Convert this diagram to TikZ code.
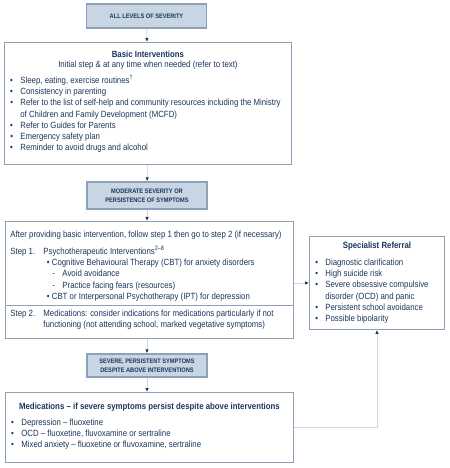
\documentclass[tikz,border=0pt]{standalone}
\usepackage{fontspec}
\setmainfont{Liberation Sans}[FakeStretch=0.87]
\usetikzlibrary{arrows.meta}
\definecolor{navy}{HTML}{1B365D}
\definecolor{frame}{HTML}{8DA2B8}
\definecolor{levelfill}{HTML}{C8D5E2}
\definecolor{wire}{HTML}{CDD7E0}
\setlength{\parindent}{0pt}
\begin{document}
\begin{tikzpicture}
[x=1bp, y=-1bp, text=navy, font=\fontsize{9bp}{11.2bp}\selectfont]
\tikzstyle{level}=[draw=frame, line width=1.2bp, fill=levelfill, align=center, inner sep=0pt,
  minimum width=120bp, font=\bfseries\fontsize{6.5bp}{9.2bp}\selectfont]
\tikzstyle{panel}=[draw=frame, line width=0.9bp, fill=white, anchor=north west, inner sep=0pt]
\tikzstyle{flow}=[draw=wire, line width=0.9bp, -{Latex[length=4bp, width=3.5bp, color=navy]}]
\useasboundingbox (0,0) rectangle (450,468);

% severity levels
\node[level, minimum height=24bp] (sevA) at (146.5,16) {ALL LEVELS OF SEVERITY};
\node[level, minimum height=27bp] (sevB) at (147,195.5) {MODERATE SEVERITY OR\\PERSISTENCE OF SYMPTOMS};
\node[level, minimum height=23bp] (sevC) at (147,365.5) {SEVERE, PERSISTENT SYMPTOMS\\DESPITE ABOVE INTERVENTIONS};

% basic interventions
\node[panel] (basic) at (4,42) {\begin{minipage}[t][122bp][t]{287bp}
{\centering\rule{0pt}{15bp}\textbf{Basic Interventions}\\[-1.2bp]
Initial step \& at any time when needed (refer to text)\par}
\vspace{4.8bp}
\hspace*{5.8bp}\begin{tabular}[t]{@{}l@{\hspace{7.4bp}}l@{}}
\textbullet & Sleep, eating, exercise routines\textsuperscript{\dag}\\
\textbullet & Consistency in parenting\\
\textbullet & Refer to the list of self-help and community resources including the Ministry\\
 & of Children and Family Development (MCFD)\\
\textbullet & Refer to Guides for Parents\\
\textbullet & Emergency safety plan\\
\textbullet & Reminder to avoid drugs and alcohol
\end{tabular}
\end{minipage}};

% steps 1 and 2
\node[panel] (step1) at (5,221) {\begin{minipage}[t][84bp][t]{288bp}
\hspace*{5bp}\rule{0pt}{16bp}After providing basic intervention, follow step 1 then go to step 2 (if necessary)\par
\vspace{5.8bp}
\hspace*{5bp}\begin{tabular}[t]{@{}p{33bp}@{}l@{}}
Step 1. & Psychotherapeutic Interventions\textsuperscript{2--8}\\
 & \hspace*{3.5bp}\textbullet\ Cognitive Behavioural Therapy (CBT) for anxiety disorders\\
 & \hspace*{9bp}\makebox[10bp][l]{-}Avoid avoidance\\
 & \hspace*{9bp}\makebox[10bp][l]{-}Practice facing fears (resources)\\
 & \hspace*{3.5bp}\textbullet\ CBT or Interpersonal Psychotherapy (IPT) for depression
\end{tabular}
\end{minipage}};
\node[panel] (step2) at (5,305) {\begin{minipage}[t][33bp][t]{288bp}
\hspace*{5bp}\begin{tabular}[t]{@{}p{33bp}@{}l@{}}
\rule{0pt}{11bp}Step 2. & Medications: consider indications for medications particularly if not\\
 & functioning (not attending school, marked vegetative symptoms)
\end{tabular}
\end{minipage}};

% medications
\node[panel] (meds) at (5,392) {\begin{minipage}[t][70bp][t]{288bp}
{\centering\rule{0pt}{17bp}\textbf{Medications -- if severe symptoms persist despite above interventions}\par}
\vspace{4.8bp}
\hspace*{5.8bp}\begin{tabular}[t]{@{}l@{\hspace{7.4bp}}l@{}}
\textbullet & Depression -- fluoxetine\\
\textbullet & OCD -- fluoxetine, fluvoxamine or sertraline\\
\textbullet & Mixed anxiety -- fluoxetine or fluvoxamine, sertraline
\end{tabular}
\end{minipage}};

% specialist referral
\node[panel] (spec) at (309,236) {\begin{minipage}[t][93bp][t]{135bp}
{\centering\rule{0pt}{12bp}\textbf{Specialist Referral}\par}
\vspace{5.8bp}
\hspace*{5.8bp}\begin{tabular}[t]{@{}l@{\hspace{7.4bp}}l@{}}
\textbullet & Diagnostic clarification\\
\textbullet & High suicide risk\\
\textbullet & Severe obsessive compulsive\\
 & disorder (OCD) and panic\\
\textbullet & Persistent school avoidance\\
\textbullet & Possible bipolarity
\end{tabular}
\end{minipage}};

\draw[flow] (sevA) -- (basic);
\draw[flow] (basic) -- (sevB);
\draw[flow] (sevB) -- (step1.north -| sevB);
\draw[flow] (step2.south -| sevC) -- (sevC);
\draw[flow] (sevC) -- (meds.north -| sevC);
\draw[flow] (step1.east |- spec.west) -- (spec.west);
\draw[flow] (meds.east) -| (spec.south);
\end{tikzpicture}
\end{document}
